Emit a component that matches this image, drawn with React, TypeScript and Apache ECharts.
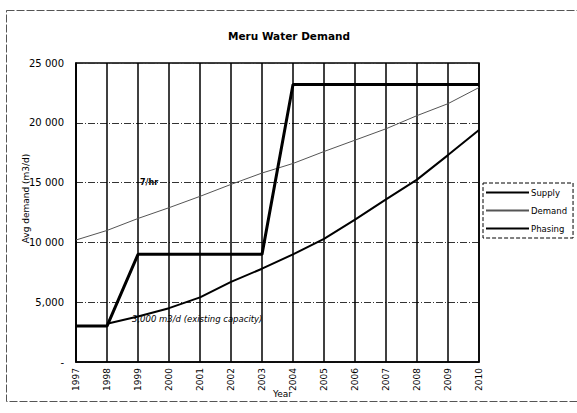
import React, { useEffect, useRef } from "react";
import * as echarts from "echarts";

const years = ["1997","1998","1999","2000","2001","2002","2003","2004","2005","2006","2007","2008","2009","2010"];
const supply = [null, 3200, 3800, 4500, 5400, 6700, 7800, 9000, 10300, 11900, 13600, 15250, 17300, 19400];
const demand = [10200, 11000, 12000, 12900, 13850, 14850, 15800, 16600, 17600, 18550, 19500, 20600, 21600, 22950];
const phasing = [3000, 3000, 9000, 9000, 9000, 9000, 9000, 23200, 23200, 23200, 23200, 23200, 23200, 23200];
const yTickValues = [0, 5000, 10000, 15000, 20000, 25000];
const yTickLabels = ["-", "5,000", "10 000", "15 000", "20 000", "25 000"];

const FONT = "DejaVu Sans";

export default function App() {
  const ref = useRef<HTMLDivElement>(null);
  useEffect(() => {
    if (!ref.current) return;
    const chart = echarts.init(ref.current, null, { renderer: "svg" });
    chart.setOption({
      animation: false,
      backgroundColor: "#fff",
      title: {
        text: "Meru Water Demand",
        left: 284,
        top: 25,
        textAlign: "center",
        textStyle: { fontFamily: FONT, fontSize: 10.5, fontWeight: "bold", color: "#000" },
      },
      legend: {
        orient: "vertical",
        left: 483,
        top: 183,
        itemWidth: 43,
        itemHeight: 9,
        itemGap: 9,
        padding: [5, 6, 5, 2],
        borderColor: "#000",
        borderWidth: 1,
        borderType: [4, 2],
        itemStyle: { color: "rgba(0,0,0,0)", borderColor: "rgba(0,0,0,0)", borderWidth: 0, opacity: 0 },
        textStyle: { fontFamily: FONT, fontSize: 8.5, color: "#000", padding: [0, 0, 0, -3] },
        data: ["Supply", "Demand", "Phasing"],
      },
      grid: { left: 76, right: 98, top: 63, bottom: 51, show: true, borderColor: "#000", borderWidth: 1.5, backgroundColor: "transparent" },
      xAxis: {
        type: "category",
        data: years,
        boundaryGap: false,
        name: "Year",
        nameLocation: "middle",
        nameGap: 27,
        nameMoveOverlap: false,
        nameTextStyle: { fontFamily: FONT, fontSize: 9, color: "#000", padding: [0, 0, 0, 10] },
        axisLine: { lineStyle: { color: "#000", width: 1.5 } },
        axisTick: { show: false },
        axisLabel: { rotate: 90, interval: 0, margin: 6, fontFamily: FONT, fontSize: 9, color: "#000" },
        splitLine: { show: true, lineStyle: { color: "#000", width: 1.5 } },
      },
      yAxis: {
        type: "value",
        min: 0,
        max: 25000,
        interval: 5000,
        name: "Avg demand (m3/d)",
        nameLocation: "middle",
        nameRotate: 90,
        nameGap: 46,
        nameMoveOverlap: false,
        nameTextStyle: { fontFamily: FONT, fontSize: 9, color: "#000", padding: [0, 0, 0, 28] },
        axisLine: { show: true, lineStyle: { color: "#000", width: 1.5 } },
        axisTick: { show: false },
        axisLabel: {
          margin: 12,
          fontFamily: FONT,
          fontSize: 10,
          color: "#000",
          formatter: (v: number) => {
            const i = yTickValues.indexOf(v);
            return i >= 0 ? yTickLabels[i] : "";
          },
        },
        splitLine: { show: true, lineStyle: { color: "#333", width: 1, type: [7, 2, 1, 2] } },
      },
      series: [
        {
          name: "Supply",
          type: "line",
          data: supply,
          symbol: "none",
          lineStyle: { color: "#000", width: 2 },
          itemStyle: { color: "#000" },
          z: 3,
        },
        {
          name: "Demand",
          type: "line",
          data: demand,
          symbol: "none",
          lineStyle: { color: "#555", width: 1 },
          itemStyle: { color: "#555" },
          z: 2,
        },
        {
          name: "Phasing",
          type: "line",
          data: phasing,
          symbol: "none",
          lineStyle: { color: "#000", width: 3 },
          itemStyle: { color: "#000" },
          z: 4,
        },
      ],
      graphic: [
        {
          type: "rect",
          shape: { x: 6.5, y: 10.5, width: 575, height: 391 },
          style: { fill: "none", stroke: "#555", lineWidth: 1, lineDash: [8, 2] },
          silent: true,
        },
        {
          type: "text",
          left: 132,
          top: 314,
          style: { text: "3,000 m3/d (existing capacity)", fontFamily: FONT, fontSize: 8.5, fontStyle: "italic", fill: "#000" },
        },
        {
          type: "text",
          left: 140,
          top: 178,
          style: { text: "7/hr", fontFamily: FONT, fontSize: 8, fontWeight: "bold", fill: "#000" },
        },
      ],
    });
    return () => chart.dispose();
  }, []);
  return <div ref={ref} style={{ width: 577, height: 413, position: "absolute", left: 0, top: 0 }} />;
}
